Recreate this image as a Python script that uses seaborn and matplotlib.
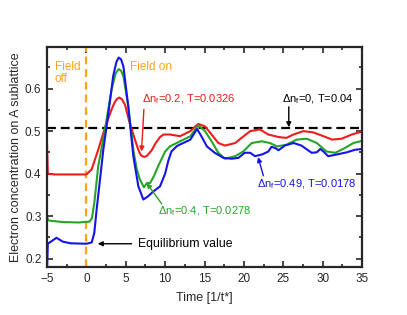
import matplotlib
matplotlib.use("Agg")
import matplotlib.pyplot as plt
from matplotlib.ticker import MultipleLocator
import seaborn as sns
import pandas as pd
import numpy as np

# values
red_t = [-5, -4.9, -4, -2, 0, 0.67, 1.5, 2.36, 3.2, 3.6, 3.9, 4.2, 4.5, 4.9, 5.5, 6.17, 6.5,
         6.8, 7.0, 7.36, 7.7, 8.3, 8.8, 9.35, 9.8, 10.6, 11.9, 13.2, 14.2, 15.06, 15.9, 16.75,
         17.6, 18.9, 19.7, 20.8, 22.0, 23.1, 24.4, 25.4, 26.3, 27.55, 28.8, 30.1, 31.2, 32.4,
         33.7, 35]
red_n = [0.47, 0.40, 0.398, 0.398, 0.398, 0.41, 0.456, 0.508, 0.551, 0.568, 0.576, 0.579,
         0.575, 0.562, 0.519, 0.48, 0.461, 0.447, 0.442, 0.439, 0.442, 0.455, 0.472, 0.486,
         0.492, 0.492, 0.488, 0.50, 0.517, 0.511, 0.492, 0.472, 0.466, 0.472, 0.484, 0.50,
         0.504, 0.492, 0.486, 0.484, 0.492, 0.50, 0.497, 0.488, 0.48, 0.482, 0.492, 0.499]

green_t = [-5, -4.85, -4.5, -3, -1, 0.4, 0.7, 1.0, 1.5, 2.36, 3.2, 3.7, 4.1, 4.4, 4.7, 5.32,
           5.96, 6.4, 6.8, 7.3, 7.7, 8.1, 8.6, 9.1, 10.0, 10.6, 11.9, 13.2, 14.2, 15.06, 15.9,
           16.75, 17.6, 18.9, 19.9, 21.0, 22.3, 23.3, 24.2, 25.4, 26.7, 28.0, 29.25, 30.5, 31.6,
           32.8, 33.9, 35]
green_n = [0.30, 0.29, 0.289, 0.286, 0.285, 0.287, 0.295, 0.33, 0.417, 0.504, 0.598, 0.635,
           0.646, 0.642, 0.629, 0.558, 0.456, 0.41, 0.386, 0.368, 0.378, 0.378, 0.395, 0.417,
           0.452, 0.464, 0.476, 0.488, 0.514, 0.50, 0.476, 0.449, 0.435, 0.441, 0.452, 0.472,
           0.476, 0.472, 0.464, 0.468, 0.48, 0.482, 0.472, 0.452, 0.449, 0.46, 0.472, 0.477]

blue_t = [-5, -4.9, -4.5, -3.8, -3, -2, 0, 0.67, 1.0, 1.3, 2.15, 2.8, 3.4, 3.8, 4.1, 4.4, 4.7,
          5.32, 5.96, 6.6, 7.23, 7.86, 8.5, 9.35, 10.0, 10.4, 10.8, 11.5, 12.3, 13.2, 14.05,
          14.6, 15.3, 16.3, 17.4, 18.45, 19.3, 20.1, 20.8, 21.4, 22.3, 23.1, 23.5, 24.0, 24.4,
          25.2, 26.3, 27.3, 28.6, 29.25, 29.7, 30.1, 30.7, 31.8, 33.05, 34.1, 35]
blue_n = [0.17, 0.235, 0.24, 0.249, 0.24, 0.236, 0.235, 0.238, 0.26, 0.315, 0.456, 0.543,
          0.629, 0.662, 0.673, 0.669, 0.652, 0.558, 0.441, 0.37, 0.339, 0.347, 0.358, 0.37,
          0.40, 0.43, 0.452, 0.465, 0.472, 0.48, 0.505, 0.488, 0.464, 0.449, 0.437, 0.435,
          0.437, 0.449, 0.449, 0.441, 0.445, 0.452, 0.463, 0.46, 0.455, 0.466, 0.472, 0.466,
          0.449, 0.45, 0.458, 0.452, 0.441, 0.445, 0.45, 0.456, 0.458]

n_equal = 0.507   # dashed line, dn_f=0
t_switch = 0      # field switched on

RED = "#ee1c1c"
GREEN = "#26a526"
BLUE = "#1414e6"
ORANGE = "#ffa31a"

sns.set_style("ticks")
plt.rcParams["font.family"] = ["Liberation Sans", "DejaVu Sans"]
plt.rcParams["mathtext.fontset"] = "custom"
plt.rcParams["mathtext.rm"] = "Liberation Sans"
plt.rcParams["mathtext.it"] = "Liberation Sans:italic"
plt.rcParams["mathtext.default"] = "regular"

fig = plt.figure(figsize=(4.07, 3.15), dpi=100)
ax = fig.add_axes([0.1155, 0.152, 0.774, 0.699])

sns.lineplot(x=red_t, y=red_n, color=RED, lw=1.5, ax=ax)
sns.lineplot(x=green_t, y=green_n, color=GREEN, lw=1.5, ax=ax)
sns.lineplot(x=blue_t, y=blue_n, color=BLUE, lw=1.5, ax=ax)

ax.axhline(n_equal, color="black", lw=1.6, dashes=(4, 2.2), zorder=1)
ax.axvline(t_switch, color=ORANGE, lw=1.6, dashes=(3.5, 2.2), zorder=1)

ax.set_xlim(-5, 35)
ax.set_ylim(0.18, 0.698)
ax.xaxis.set_major_locator(MultipleLocator(5))
ax.xaxis.set_minor_locator(MultipleLocator(2.5))
ax.yaxis.set_major_locator(MultipleLocator(0.1))
ax.yaxis.set_minor_locator(MultipleLocator(0.05))
ax.tick_params(which="both", direction="in", top=True, right=True, width=1.2, labelsize=8.5,
               pad=4)
ax.tick_params(which="major", length=4)
ax.tick_params(which="minor", length=2.2)
for s in ax.spines.values():
    s.set_linewidth(1.6)

ax.set_xlabel("Time [1/t*]", fontsize=9, labelpad=5)
ax.set_ylabel("Electron concentration on A sublattice", fontsize=9, labelpad=2)

fs = 8
ax.text(-4.0, 0.666, "Field\noff", color=ORANGE, fontsize=8.5, ha="left", va="top",
        linespacing=1.0)
ax.text(5.5, 0.664, "Field on", color=ORANGE, fontsize=8.5, ha="left", va="top")

arrow = dict(arrowstyle="-|>", lw=1.0, mutation_scale=7, shrinkA=0, shrinkB=0)

ax.annotate("", xy=(7.0, 0.452), xytext=(7.3, 0.551), arrowprops={**arrow, "color": RED})
ax.text(7.1, 0.574, "Δn$_f$=0.2, T=0.0326", color=RED, fontsize=fs, ha="left", va="center")

ax.annotate("", xy=(25.7, 0.509), xytext=(25.7, 0.557), arrowprops={**arrow, "color": "black"})
ax.text(24.9, 0.576, "Δn$_f$=0, T=0.04", color="black", fontsize=fs, ha="left", va="center")

ax.annotate("", xy=(7.66, 0.378), xytext=(9.56, 0.329), arrowprops={**arrow, "color": GREEN})
ax.text(9.1, 0.311, "Δn$_f$=0.4, T=0.0278", color=GREEN, fontsize=fs, ha="left", va="center")

ax.annotate("", xy=(21.8, 0.439), xytext=(22.47, 0.395), arrowprops={**arrow, "color": BLUE})
ax.text(21.7, 0.374, "Δn$_f$=0.49, T=0.0178", color=BLUE, fontsize=fs, ha="left", va="center")

ax.annotate("", xy=(1.44, 0.235), xytext=(5.75, 0.235), arrowprops={**arrow, "color": "black"})
ax.text(6.6, 0.235, "Equilibrium value", color="black", fontsize=8.8, ha="left", va="center")

fig.savefig("out.png", dpi=100)
